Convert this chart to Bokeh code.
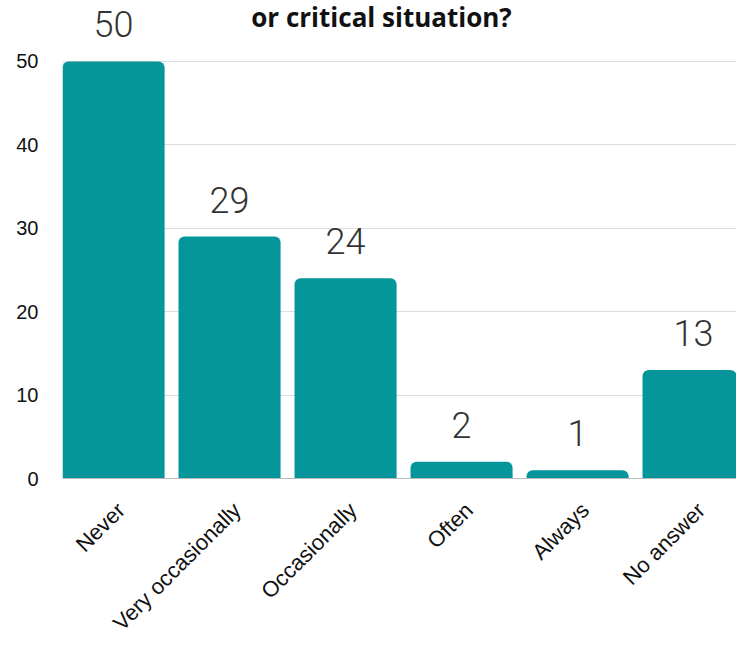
import math
from bokeh.plotting import figure
from bokeh.models import ColumnDataSource, LabelSet, Label, Range1d, FixedTicker
from bokeh.core.properties import value
from bokeh.embed import file_html
from bokeh.resources import INLINE

# Survey answers and their counts
categories = ["Never", "Very occasionally", "Occasionally", "Often", "Always", "No answer"]
counts = [50, 29, 24, 2, 1, 13]
y_ticks = [0, 10, 20, 30, 40, 50]

BAR_COLOR = "#04969A"
TEXT_COLOR = "#333333"

positions = list(range(len(categories)))
source = ColumnDataSource(dict(x=positions, top=counts, label=[str(c) for c in counts]))

p = figure(
    width=736, height=651,
    output_backend="svg", toolbar_location=None,
    x_range=Range1d(-0.44, 5.37), y_range=Range1d(0, 57.3),
    min_border_left=62, min_border_right=0, min_border_top=0, min_border_bottom=173,
)
p.outline_line_color = None
p.background_fill_color = "white"
p.border_fill_color = "white"

p.vbar(x="x", top="top", bottom=0, width=0.88, source=source,
       fill_color=BAR_COLOR, line_color=None, border_radius=[6, 6, 0, 0])

labels = LabelSet(x="x", y="top", text="label", source=source,
                  text_align="center", text_baseline="alphabetic", y_offset=24,
                  text_font=value("Roboto Light, Lato Light, Open Sans"), text_font_size="36px",
                  text_color=TEXT_COLOR)
p.add_layout(labels)

# Second line of the chart heading; the first line sits above the canvas
p.add_layout(Label(x=2.31, y=55.3, text="or critical situation?",
                   text_align="center", text_baseline="alphabetic",
                   text_font="Open Sans", text_font_style="bold",
                   text_font_size="26px", text_color="#111111"))

# x axis: category names at 45 degrees, nudged so each name ends just right of its bar centre
label_shift = 0.065
tick_pos = [i + label_shift for i in positions]
p.xaxis.ticker = FixedTicker(ticks=tick_pos)
p.xaxis.major_label_overrides = {t: c for t, c in zip(tick_pos, categories)}
p.xaxis.major_label_orientation = math.pi / 4
p.xaxis.major_label_text_font = "Liberation Sans"
p.xaxis.major_label_text_font_size = "22px"
p.xaxis.major_label_text_color = "#111111"
p.xaxis.major_tick_line_color = None
p.xaxis.minor_tick_line_color = None
p.xaxis.axis_line_color = "#bbbbbb"
p.xaxis.major_label_standoff = 22

# y axis
p.yaxis.ticker = FixedTicker(ticks=y_ticks)
p.yaxis.major_label_text_font = "Liberation Sans"
p.yaxis.major_label_text_font_size = "20px"
p.yaxis.major_label_text_color = "#111111"
p.yaxis.major_tick_line_color = None
p.yaxis.minor_tick_line_color = None
p.yaxis.axis_line_color = None
p.yaxis.major_label_standoff = 18

p.xgrid.grid_line_color = None
p.ygrid.grid_line_color = "#dddddd"
p.ygrid.grid_line_width = 1

open("out.html", "w").write(file_html(p, INLINE))
